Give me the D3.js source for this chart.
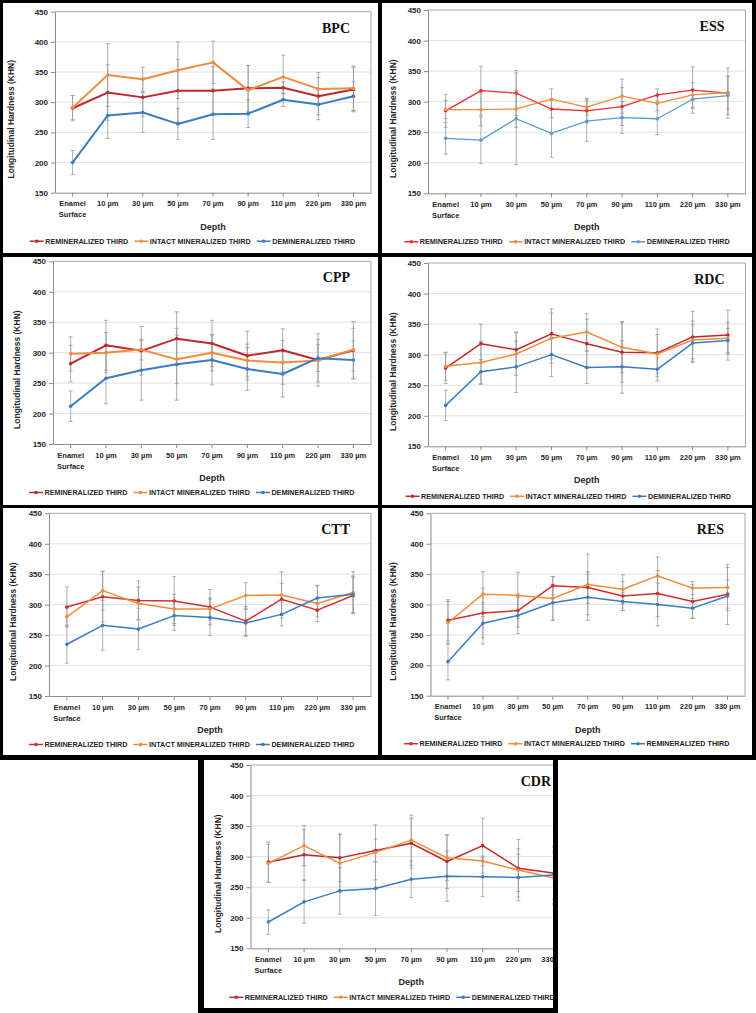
<!DOCTYPE html>
<html><head><meta charset="utf-8">
<script src="https://cdn.jsdelivr.net/npm/d3@7"></script>
<style>body{margin:0;background:#fff}svg{display:block}</style>
</head><body><svg id="c" width="756" height="1013"></svg>
<script>
// ---------- DATA ----------
const categories = ["Enamel Surface","10 µm","30 µm","50 µm","70 µm","90 µm","110 µm","220 µm","330 µm"];
const yTicks = [150,200,250,300,350,400,450];
const seriesLabels = ["REMINERALIZED THIRD","INTACT MINERALIZED THIRD","DEMINERALIZED THIRD"];
const resSeriesLabels = ["REMINERALIZED THIRD","INTACT MINERALIZED THIRD","REMINERALIZED THIRD"];
const yTitle = "Longitudinal Hardness (KHN)";
const xTitle = "Depth";

const bpcRemin  = [290,316,308,319,319,323,324,310,321];
const bpcIntact = [291,345,338,353,366,320,342,322,323];
const bpcDemin  = [200,278,283,264,280,281,304,296,310];
const bpcReminErr  = [21,46,32,52,40,38,10,31,37];
const bpcIntactErr = [20,52,20,47,35,41,36,27,37];
const bpcDeminErr  = [20,38,33,26,42,23,11,25,24];

const essRemin  = [285,318,314,288,285,292,311,319,314];
const essIntact = [287,287,288,304,291,309,297,311,315];
const essDemin  = [240,237,272,248,268,274,272,304,310];
const essReminErr  = [27,40,37,14,20,31,10,38,41];
const essIntactErr = [15,27,30,17,13,28,12,20,27];
const essDeminErr  = [26,38,75,39,33,26,26,15,31];

const cppRemin  = [282,312,303,323,315,295,304,288,304];
const cppIntact = [298,300,305,289,300,287,284,287,305];
const cppDemin  = [212,258,271,281,288,273,265,291,288];
const cppReminErr  = [30,41,40,44,38,40,35,43,47];
const cppIntactErr = [28,33,17,40,30,27,36,35,35];
const cppDeminErr  = [25,42,49,59,41,35,38,22,31];

const rdcRemin  = [278,318,308,334,318,304,303,329,332];
const rdcIntact = [281,287,301,327,337,312,301,324,327];
const rdcDemin  = [217,272,280,300,279,280,276,319,323];
const rdcReminErr  = [25,32,29,41,40,49,39,42,41];
const rdcIntactErr = [23,35,35,41,30,42,32,31,26];
const rdcDeminErr  = [25,20,42,36,26,43,19,30,20];

const cttRemin  = [296,313,307,306,296,273,309,291,315];
const cttIntact = [280,323,302,293,293,315,316,302,320];
const cttDemin  = [235,266,260,282,279,270,284,311,317];
const cttReminErr  = [33,41,32,40,29,24,26,11,30];
const cttIntactErr = [15,32,27,24,18,21,38,30,34];
const cttDeminErr  = [31,41,34,24,30,22,19,20,30];

const resRemin  = [274,286,290,331,328,314,318,305,317];
const resIntact = [270,317,315,310,333,325,347,327,328];
const resDemin  = [206,269,282,303,312,305,300,294,314];
const resReminErr  = [34,41,27,15,26,24,38,28,23];
const resIntactErr = [35,37,38,36,50,24,31,11,38];
const resDeminErr  = [30,34,30,29,38,15,35,16,47];

const cdrRemin  = [291,303,298,310,322,292,318,281,273];
const cdrIntact = [289,318,289,307,327,298,293,278,265];
const cdrDemin  = [193,226,244,248,263,268,267,266,270];
const cdrReminErr  = [33,41,39,19,41,44,45,47,43];
const cdrIntactErr = [31,33,47,45,41,37,8,35,43];
const cdrDeminErr  = [20,35,38,44,30,41,32,38,47];

// ---------- LAYOUT ----------
const darkRed = "#C0282D", brightRed = "#E8302E", midRed = "#D32F2F";
const orange = "#F08C3C", blue = "#3A7CC3", lightBlue = "#5B9BD5";
const panels = [
  {name:"BPC", vals:[bpcRemin,bpcIntact,bpcDemin], errs:[bpcReminErr,bpcIntactErr,bpcDeminErr], labels:seriesLabels,
   box:[3,3,378,253], plot:[55,371,11.7,192.7], ytx:11, lcx:192.5, ly:48.5, colors:[darkRed,orange,blue], sw:2},
  {name:"ESS", vals:[essRemin,essIntact,essDemin], errs:[essReminErr,essIntactErr,essDeminErr], labels:seriesLabels,
   box:[382,3,752,253], plot:[428,745.5,10,193.3], ytx:393, lcx:567, ly:48.5, colors:[brightRed,orange,lightBlue], sw:1.3},
  {name:"CPP", vals:[cppRemin,cppIntact,cppDemin], errs:[cppReminErr,cppIntactErr,cppDeminErr], labels:seriesLabels,
   box:[3,257,378,505], plot:[53,371,261.3,444], ytx:16.7, lcx:191.7, ly:48.5, colors:[darkRed,orange,blue], sw:2},
  {name:"RDC", vals:[rdcRemin,rdcIntact,rdcDemin], errs:[rdcReminErr,rdcIntactErr,rdcDeminErr], labels:seriesLabels,
   box:[382,257,752,505], plot:[428,745.5,263,446.3], ytx:393, lcx:568.3, ly:50, colors:[darkRed,orange,blue], sw:1.5},
  {name:"CTT", vals:[cttRemin,cttIntact,cttDemin], errs:[cttReminErr,cttIntactErr,cttDeminErr], labels:seriesLabels,
   box:[3,508,378,755], plot:[49,371,513.3,696], ytx:13.3, lcx:191.7, ly:48.5, colors:[midRed,orange,blue], sw:1.5},
  {name:"RES", vals:[resRemin,resIntact,resDemin], errs:[resReminErr,resIntactErr,resDeminErr], labels:resSeriesLabels,
   box:[382,508,752,755], plot:[430.5,745,513.3,695.7], ytx:393, lcx:566.7, ly:48, colors:[midRed,orange,blue], sw:1.5},
  {name:"CDR", vals:[cdrRemin,cdrIntact,cdrDemin], errs:[cdrReminErr,cdrIntactErr,cdrDeminErr], labels:seriesLabels,
   box:[204,760,553,1008], plot:[250.5,572,765,948.3], ytx:218, lcx:392, ly:49, colors:[darkRed,orange,blue], sw:1.5}
];

const svg = d3.select("#c");
const defs = svg.append("defs");
svg.append("rect").attr("x",0).attr("y",0).attr("width",756).attr("height",760).attr("fill","#000");
svg.append("rect").attr("x",198).attr("y",755).attr("width",360).attr("height",258).attr("fill","#000");

const sans = "'Liberation Sans', Arial, sans-serif";
const textCol = "#262626";

panels.forEach(p => {
  const [bx0,by0,bx1,by1] = p.box;
  const [l,r,t,b] = p.plot;
  svg.append("rect").attr("x",bx0).attr("y",by0).attr("width",bx1-bx0).attr("height",by1-by0).attr("fill","#fff");
  const clipId = "clip-"+p.name;
  defs.append("clipPath").attr("id",clipId).append("rect")
    .attr("x",bx0).attr("y",by0).attr("width",bx1-bx0).attr("height",by1-by0);
  const g = svg.append("g").attr("clip-path",`url(#${clipId})`);

  const x = d3.scaleBand().domain(categories).range([l,r]);
  const cx = c => x(c) + x.bandwidth()/2;
  const y = d3.scaleLinear().domain([150,450]).range([b,t]);

  // gridlines
  g.append("g").selectAll("line").data(yTicks.slice(1,-1)).join("line")
    .attr("x1",l).attr("x2",r).attr("y1",d=>y(d)).attr("y2",d=>y(d))
    .attr("stroke","#d9d9d9").attr("stroke-width",0.8);
  // plot border top & right
  g.append("path").attr("d",`M${l},${y(450)}H${r}V${b}`).attr("fill","none")
    .attr("stroke","#a6a6a6").attr("stroke-width",1);

  // y axis
  const ya = g.append("g").attr("transform",`translate(${l},0)`)
    .call(d3.axisLeft(y).tickValues(yTicks).tickSize(4).tickSizeOuter(0).tickPadding(3).tickFormat(d3.format("d")));
  ya.select(".domain").attr("stroke","#8c8c8c");
  ya.selectAll(".tick line").attr("stroke","#8c8c8c");
  ya.selectAll(".tick text").attr("font-family",sans).attr("font-weight","bold").attr("font-size",8).attr("fill",textCol);

  // x axis
  const xa = g.append("g").attr("transform",`translate(0,${b})`)
    .call(d3.axisBottom(x).tickSize(4).tickSizeOuter(0));
  xa.select(".domain").attr("stroke","#8c8c8c");
  xa.selectAll(".tick line").attr("stroke","#8c8c8c");
  xa.selectAll(".tick text").each(function(d){
    const el = d3.select(this).text(null).attr("y",0).attr("dy",null)
      .attr("font-family",sans).attr("font-weight","bold").attr("font-size",7.5).attr("fill",textCol);
    const lines = d === categories[0] ? d.split(" ") : [d];
    lines.forEach((s,i)=> el.append("tspan").attr("x",0).attr("y",11+i*11).attr("dy","0.35em").text(s));
  });

  // error bars
  p.vals.forEach((vals,si)=>{
    const eg = g.append("g").attr("stroke","#9a9a9a").attr("stroke-width",0.8);
    vals.forEach((v,j)=>{
      const e = p.errs[si][j], xc = cx(categories[j]);
      eg.append("line").attr("x1",xc).attr("x2",xc).attr("y1",y(v-e)).attr("y2",y(v+e));
      eg.append("line").attr("x1",xc-2).attr("x2",xc+2).attr("y1",y(v-e)).attr("y2",y(v-e));
      eg.append("line").attr("x1",xc-2).attr("x2",xc+2).attr("y1",y(v+e)).attr("y2",y(v+e));
    });
  });

  // lines
  const line = d3.line().x((d,j)=>cx(categories[j])).y(d=>y(d));
  p.vals.forEach((vals,si)=>{
    g.append("path").datum(vals).attr("d",line).attr("fill","none")
      .attr("stroke",p.colors[si]).attr("stroke-width",p.sw).attr("stroke-linejoin","round");
    g.append("g").selectAll("circle").data(vals).join("circle")
      .attr("cx",(d,j)=>cx(categories[j])).attr("cy",d=>y(d)).attr("r",1.8).attr("fill",p.colors[si]);
  });

  // titles
  g.append("text").attr("x",p.ytx).attr("y",(t+b)/2+17)
    .attr("transform",`rotate(-90,${p.ytx},${(t+b)/2+17})`).attr("text-anchor","middle").attr("dy","0.35em")
    .attr("font-family",sans).attr("font-weight","bold").attr("font-size",8.5).attr("fill",textCol).text(yTitle);
  g.append("text").attr("x",(l+r)/2).attr("y",b+34).attr("dy","0.35em").attr("text-anchor","middle")
    .attr("font-family",sans).attr("font-weight","bold").attr("font-size",9).attr("fill",textCol).text(xTitle);
  g.append("text").attr("x",r-21).attr("y",t+21).attr("text-anchor","end")
    .attr("font-family","'Liberation Serif','Times New Roman',serif").attr("font-weight","bold").attr("font-size",14)
    .attr("fill","#111").text(p.name);

  // legend
  const lg = g.append("g");
  const items = p.labels.map((lab,si)=>{
    const it = lg.append("g");
    it.append("line").attr("x1",0).attr("x2",14).attr("y1",0).attr("y2",0).attr("stroke",p.colors[si]).attr("stroke-width",1.5);
    it.append("circle").attr("cx",7).attr("cy",0).attr("r",1.8).attr("fill",p.colors[si]);
    const tx = it.append("text").attr("x",15.5).attr("y",0).attr("dy","0.35em")
      .attr("font-family",sans).attr("font-weight","bold").attr("font-size",7.2).attr("fill",textCol).text(lab);
    return {it, w: 15.5 + tx.node().getComputedTextLength()};
  });
  const gap = 6;
  const total = d3.sum(items,d=>d.w) + gap*(items.length-1);
  let xx = p.lcx - total/2;
  items.forEach(d=>{ d.it.attr("transform",`translate(${xx},${b+p.ly})`); xx += d.w + gap; });
});
</script>
</body></html>
